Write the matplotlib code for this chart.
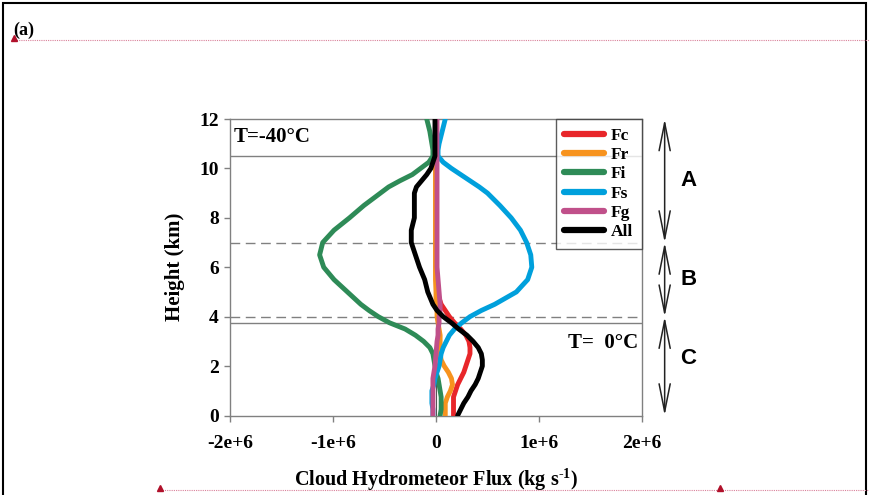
# Cloud hydrometeor flux profiles, panel (a)
import matplotlib
matplotlib.use("Agg")
import matplotlib.pyplot as plt
from matplotlib.lines import Line2D
from matplotlib.patches import Rectangle

plt.rcParams["mathtext.fontset"] = "custom"
plt.rcParams["mathtext.rm"] = "Liberation Serif:bold"
plt.rcParams["mathtext.bf"] = "Liberation Serif:bold"

# heights (km) shared by all profiles
heights = [12, 11.5, 11, 10.75, 10.5, 10.25, 10, 9.75, 9.5, 9.25, 9, 8.5, 8, 7.5, 7,
           6.5, 6, 5.5, 5, 4.5, 4.25, 4, 3.75, 3.5, 3.25, 3, 2.75, 2.5, 2.25, 2,
           1.75, 1.5, 1.25, 1, 0.75, 0.5, 0.25, 0]

# fluxes in units of 1e6 kg/s
fc = [0, 0, 0, 0, 0, 0, 0, 0, 0, 0, 0, 0, 0, 0, 0,
      0, 0, 0.005, 0.01, 0.05, 0.09, 0.13, 0.18, 0.24, 0.29, 0.32, 0.33, 0.33, 0.31, 0.29,
      0.27, 0.24, 0.21, 0.19, 0.17, 0.17, 0.17, 0.17]
fr = [-0.005, -0.005, -0.005, -0.005, -0.005, -0.005, -0.005, -0.005, -0.005, -0.005, -0.005, -0.005, -0.005, -0.005, -0.005,
      -0.005, -0.005, -0.005, 0.0, 0.0, 0.01, 0.01, 0.02, 0.03, 0.04, 0.04, 0.04, 0.04, 0.05, 0.08,
      0.12, 0.15, 0.16, 0.14, 0.11, 0.09, 0.09, 0.09]
fi = [-0.09, -0.06, -0.04, -0.03, -0.03, -0.07, -0.15, -0.23, -0.35, -0.46, -0.54, -0.70, -0.84, -0.99, -1.10,
      -1.13, -1.09, -0.99, -0.86, -0.73, -0.65, -0.56, -0.45, -0.30, -0.20, -0.12, -0.06, -0.03, -0.02, -0.01,
      0.00, 0.02, 0.03, 0.04, 0.05, 0.05, 0.05, 0.04]
fs = [0.09, 0.06, 0.03, 0.02, 0.02, 0.07, 0.15, 0.24, 0.33, 0.42, 0.50, 0.62, 0.73, 0.82, 0.88,
      0.92, 0.93, 0.89, 0.78, 0.57, 0.44, 0.33, 0.25, 0.18, 0.13, 0.10, 0.07, 0.05, 0.04, 0.03,
      0.01, -0.01, -0.02, -0.04, -0.04, -0.04, -0.03, -0.03]
fg = [0.01, 0.01, 0.01, 0.01, 0.01, 0.01, 0.01, 0.01, 0.01, 0.01, 0.01, 0.01, 0.01, 0.01, 0.01,
      0.01, 0.01, 0.02, 0.03, 0.04, 0.04, 0.03, 0.03, 0.02, 0.02, 0.01, 0.005, 0.0, -0.005, -0.01,
      -0.02, -0.03, -0.03, -0.03, -0.03, -0.03, -0.03, -0.03]
fall = [-0.01, -0.01, -0.01, -0.01, -0.01, -0.03, -0.05, -0.09, -0.14, -0.19, -0.21, -0.21, -0.21, -0.24, -0.24,
        -0.20, -0.16, -0.11, -0.08, -0.03, 0.01, 0.07, 0.15, 0.22, 0.30, 0.36, 0.41, 0.44, 0.45, 0.45,
        0.43, 0.41, 0.38, 0.34, 0.31, 0.27, 0.24, 0.21]

names = ["Fc", "Fr", "Fi", "Fs", "Fg", "All"]
colors = ["#e8262a", "#f7931e", "#2e8b57", "#00a0dc", "#c0508a", "#000000"]
series = [fc, fr, fi, fs, fg, fall]

xticks = [-2e6, -1e6, 0, 1e6, 2e6]
xticklabels = ["-2e+6", "-1e+6", "0", "1e+6", "2e+6"]
yticks = [0, 2, 4, 6, 8, 10, 12]

# layer boundaries
t40 = 10.5
t0 = 3.75
ab = 7
bc = 4
layers = [("A", 12, ab), ("B", ab, bc), ("C", bc, 0)]

serif = "Liberation Serif"
sans = "Liberation Sans"

W, H = 869, 495
fig = plt.figure(figsize=(W / 100, H / 100), dpi=100)
ax = fig.add_axes([230 / W, 1 - 415.5 / H, (642 - 230) / W, (415.5 - 119) / H])

gray = "#808080"
ax.axhline(t40, color=gray, lw=1.0, zorder=1)
ax.axhline(t0, color=gray, lw=1.0, zorder=1)
ax.axhline(ab, color=gray, lw=1.0, ls=(0, (7, 4)), zorder=1)
ax.axhline(bc, color=gray, lw=1.0, ls=(0, (7, 4)), zorder=1)
ax.axvline(0, color="#555555", lw=0.8, zorder=1)

for name, col, vals in zip(names, colors, series):
    ax.plot([v * 1e6 for v in vals], heights, color=col, lw=3.5,
            solid_capstyle="round", solid_joinstyle="round", label=name, zorder=3)

ax.set_xlim(-2e6, 2e6)
ax.set_ylim(0, 12)
ax.set_xticks(xticks)
ax.set_xticklabels(xticklabels)
ax.set_yticks(yticks)
for s in ax.spines.values():
    s.set_color(gray)
    s.set_linewidth(1.0)
ax.tick_params(direction="out", length=4, width=1, color=gray, labelsize=14, pad=4)
for lab in ax.get_xticklabels() + ax.get_yticklabels():
    lab.set_fontfamily(serif)
    lab.set_fontweight("bold")
ax.tick_params(axis="x", pad=10)

ax.set_xlabel("Cloud Hydrometeor Flux (kg s$^{\\text{-}1}$)", fontsize=14.5,
              fontfamily=serif, fontweight="bold", labelpad=10)
ax.set_ylabel("Height (km)", fontsize=15, fontfamily=serif, fontweight="bold", labelpad=10)

ax.text(-1.965e6, 11.27, "T=-40\u00b0C", fontsize=15, fontfamily=serif, fontweight="bold",
        ha="left", va="center")
ax.text(1.96e6, 2.95, "T=  0\u00b0C", fontsize=15, fontfamily=serif, fontweight="bold",
        ha="right", va="center")

handles = [Line2D([], [], color=c, lw=4.5, solid_capstyle="round") for c in colors]
leg = ax.legend(handles, names, loc="upper right", bbox_to_anchor=(1.0, 1.0),
                frameon=True, fancybox=False, handlelength=2.3, handletextpad=0.4,
                labelspacing=0.18, borderpad=0.5, borderaxespad=0,
                prop={"family": serif, "weight": "bold", "size": 12.5})
leg.get_frame().set_edgecolor("#333333")
leg.get_frame().set_linewidth(1.0)

# layer arrows to the right of the plot
xarr = 2.22e6
offsets = {"A": 0.0, "B": 0.0, "C": 0.3}
for lab, top, bot in layers:
    ax.annotate("", xy=(xarr, bot), xytext=(xarr, top), xycoords="data",
                arrowprops=dict(arrowstyle="<->,head_length=2.0,head_width=0.4",
                                color="#222222", lw=1.1, shrinkA=0, shrinkB=0,
                                mutation_scale=10),
                annotation_clip=False)
    ax.text(2.45e6, (top + bot) / 2 + offsets[lab], lab, fontsize=16, fontfamily=sans,
            fontweight="bold", ha="center", va="center", clip_on=False)

# page decorations
fig.patches.append(Rectangle((3 / W, -0.01), (866 - 3) / W, 1 - 3 / H + 0.01,
                             transform=fig.transFigure, fill=False, edgecolor="black", lw=1.5))
pink = "#d9809a"
fig.add_artist(Line2D([12 / W, 1], [1 - 40 / H] * 2, transform=fig.transFigure,
                      color=pink, lw=0.8, ls=(0, (1, 1))))
fig.add_artist(Line2D([160 / W, 1], [1 - 490 / H] * 2, transform=fig.transFigure,
                      color=pink, lw=0.8, ls=(0, (1, 1))))
for px, py in [(14, 38), (160, 488), (720, 488)]:
    fig.add_artist(Line2D([px / W], [1 - py / H], transform=fig.transFigure,
                          marker="^", color="#b0102a", markersize=5, ls="none"))
fig.text(13 / W, 1 - 30 / H, "(a)", fontsize=13, fontfamily=serif, fontweight="bold",
         ha="left", va="center")

fig.savefig("out.png", dpi=100)
